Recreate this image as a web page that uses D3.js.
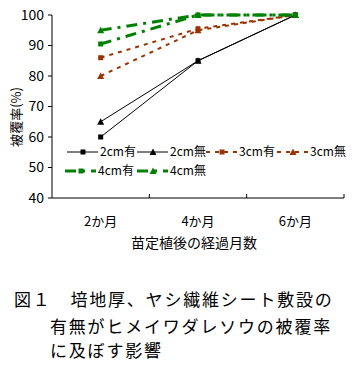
<!DOCTYPE html>
<html><head><meta charset="utf-8">
<script src="https://cdn.jsdelivr.net/npm/d3@7"></script>
<style>body{margin:0;background:#fff}svg{display:block}text{font-family:"Noto Sans CJK JP",sans-serif}</style>
</head><body>
<svg id="c" width="355" height="368"></svg>
<script>
const months = ["2か月","4か月","6か月"];
const s2Yes = [60,85,100];
const s2No = [65,85,100];
const s3Yes = [86,95.5,100];
const s3No = [80,95,100];
const s4Yes = [90.5,100,100];
const s4No = [95,100,100];
const seriesNames = ["2cm有","2cm無","3cm有","3cm無","4cm有","4cm無"];
const yTicks = [40,50,60,70,80,90,100];
const xTitle = "苗定植後の経過月数";
const yTitle = "被覆率(%)";
const caption = ["図１　培地厚、ヤシ繊維シート敷設の","有無がヒメイワダレソウの被覆率","に及ぼす影響"];

const series = [
 {name:seriesNames[0], values:s2Yes, color:"#000", shape:"square", dash:null, w:1},
 {name:seriesNames[1], values:s2No, color:"#000", shape:"triangle", dash:null, w:1},
 {name:seriesNames[2], values:s3Yes, color:"#993300", shape:"square", dash:"4,5", w:2},
 {name:seriesNames[3], values:s3No, color:"#993300", shape:"triangle", dash:"4,5", w:2},
 {name:seriesNames[4], values:s4Yes, color:"#008000", shape:"square", dash:"11,6,3,6", w:3},
 {name:seriesNames[5], values:s4No, color:"#008000", shape:"triangle", dash:"11,6,3,6", w:3}
];

const svg = d3.select("#c");
const x = d3.scaleBand().domain(months).range([52,344]);
const y = d3.scaleLinear().domain([40,100]).range([198,15]);

const g = svg.append("g");
g.append("line").attr("x1",52).attr("x2",52).attr("y1",y(100)).attr("y2",y(40)).attr("stroke","#000");
g.append("line").attr("x1",52).attr("x2",344).attr("y1",y(40)).attr("y2",y(40)).attr("stroke","#000");
yTicks.forEach(t=>{
  g.append("line").attr("x1",48).attr("x2",52).attr("y1",y(t)).attr("y2",y(t)).attr("stroke","#000");
  g.append("text").attr("x",44).attr("y",y(t)).attr("dy","0.35em").attr("text-anchor","end").attr("font-size",14).text(t);
});
months.forEach((m,i)=>{
  const xe = x(m)+x.bandwidth();
  g.append("line").attr("x1",xe).attr("x2",xe).attr("y1",y(40)).attr("y2",y(40)-4).attr("stroke","#000");
  g.append("text").attr("x",x(m)+x.bandwidth()/2).attr("y",221).attr("dy","0.35em").attr("text-anchor","middle").attr("font-size",13).text(m);
});
g.append("text").attr("x",194).attr("y",243).attr("dy","0.35em").attr("text-anchor","middle").attr("font-size",14).text(xTitle);
g.append("text").attr("transform","translate(16,117) rotate(-90)").attr("text-anchor","middle").attr("dy","0.35em").attr("font-size",13).text(yTitle);

function marker(sel, shape, cx, cy, color){
  if(shape==="square"){
    sel.append("rect").attr("x",cx-2.5).attr("y",cy-2.5).attr("width",5).attr("height",5).attr("fill",color);
  } else {
    sel.append("path").attr("d",`M${cx},${cy-3.5}L${cx+3.5},${cy+3}L${cx-3.5},${cy+3}Z`).attr("fill",color);
  }
}
const line = d3.line().x((d,i)=>x(months[i])+x.bandwidth()/2).y(d=>y(d));
series.forEach(s=>{
  g.append("path").attr("d",line(s.values)).attr("fill","none").attr("stroke",s.color).attr("stroke-width",s.w).attr("stroke-dasharray",s.dash);
  s.values.forEach((v,i)=>marker(g,s.shape,x(months[i])+x.bandwidth()/2,y(v),s.color));
});

const legPos = [[67,152],[137,152],[206,152],[277,152],[65,171],[137,171]];
series.forEach((s,i)=>{
  const [lx,ly] = legPos[i];
  g.append("line").attr("x1",lx).attr("x2",lx+31).attr("y1",ly).attr("y2",ly).attr("stroke",s.color).attr("stroke-width",s.w).attr("stroke-dasharray",s.dash);
  marker(g,s.shape,lx+16,ly,s.color);
  g.append("text").attr("x",lx+33).attr("y",ly).attr("dy","0.35em").attr("font-size",12).text(s.name);
});

caption.forEach((c,i)=>{
  svg.append("text").attr("x",i===0?14:50).attr("y",[300,327,351][i]).attr("dy","0.35em").attr("font-size",17).attr("letter-spacing",1.8).text(c);
});
</script>
</body></html>
